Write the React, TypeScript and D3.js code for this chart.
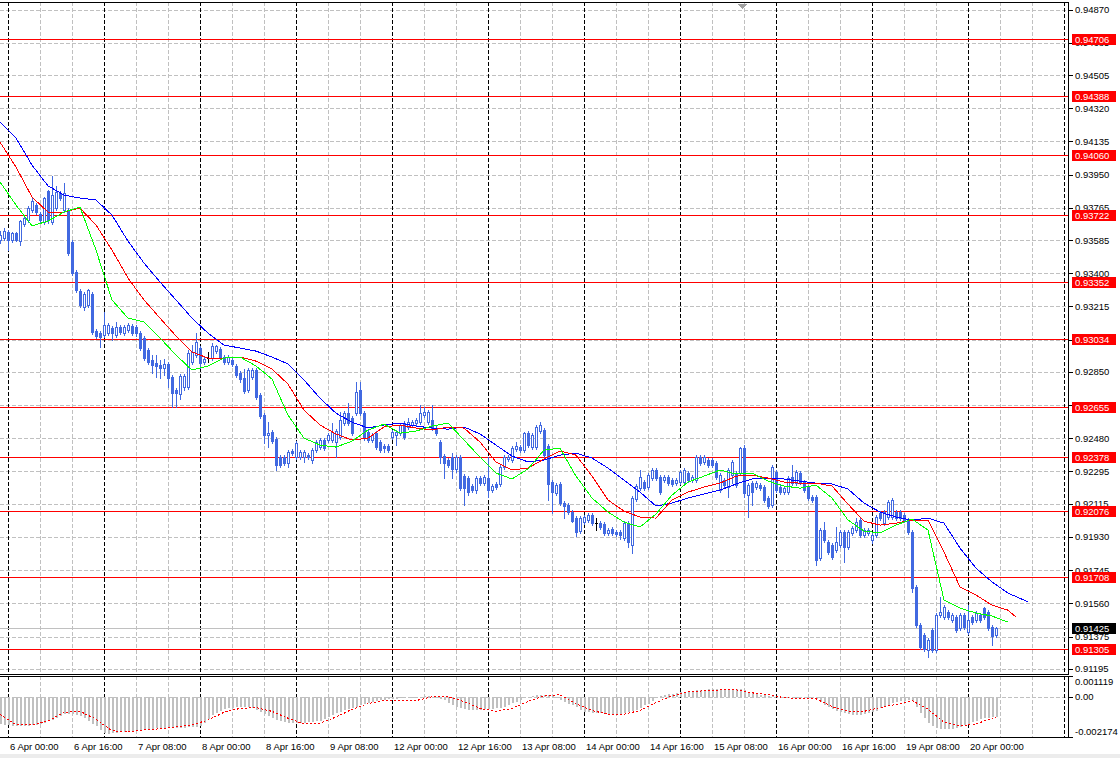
import { useEffect } from "react";
import * as d3 from "d3";

const WIDTH = 1120;
const HEIGHT = 758;
const MAIN = { left: 0, right: 1068, top: 2, bottom: 674 };
const SUB = { top: 676, bottom: 737 };
const FONT = "Tahoma, 'Liberation Sans', Arial, sans-serif";
const CANDLE = "#4169e1";

// H1 bars. Index 0 is 6 Apr 00:00, the two bars before it are 5 Apr 22:00 and 23:00
const FIRST_BAR = -2;
const LAST_SLOT = 265;
const PRICE_RANGE = [0.91166, 0.94912];
const MACD_RANGE = [-0.002174, 0.001119];

type Bar = [number, number, number, number]; // open, high, low, close

const APR05: Bar[] = [
  [0.93585, 0.93635, 0.93568, 0.93613],
  [0.93596, 0.93652, 0.93585, 0.93635],
];
const APR06: Bar[] = [
  [0.9363, 0.93641, 0.93529, 0.93585], [0.93585, 0.9363, 0.93574, 0.93624],
  [0.93624, 0.9363, 0.93579, 0.93585], [0.93579, 0.93697, 0.93557, 0.93691],
  [0.93675, 0.93719, 0.93664, 0.93707], [0.93697, 0.93775, 0.93686, 0.93763],
  [0.93752, 0.93819, 0.93741, 0.93802], [0.9378, 0.93791, 0.9373, 0.93741],
  [0.9373, 0.93741, 0.93686, 0.93697], [0.93686, 0.93825, 0.93675, 0.93819],
  [0.93858, 0.93864, 0.9368, 0.93697], [0.93686, 0.93942, 0.93675, 0.93836],
  [0.93763, 0.93887, 0.93752, 0.93853], [0.93847, 0.93858, 0.93808, 0.93819],
  [0.93752, 0.93903, 0.93741, 0.93847], [0.93752, 0.93763, 0.93501, 0.93512],
  [0.93574, 0.93585, 0.9339, 0.93401], [0.93407, 0.93418, 0.93295, 0.93306],
  [0.93301, 0.93312, 0.93212, 0.93223], [0.93212, 0.93295, 0.93195, 0.93284],
  [0.93223, 0.93312, 0.93212, 0.93306], [0.93284, 0.93295, 0.93061, 0.93072],
  [0.93077, 0.93088, 0.93038, 0.9305], [0.93066, 0.93077, 0.92989, 0.93044],
];
const APR07: Bar[] = [
  [0.93055, 0.93184, 0.93044, 0.93111], [0.93066, 0.93122, 0.93055, 0.93111],
  [0.93094, 0.93105, 0.93028, 0.93066], [0.93055, 0.93128, 0.93044, 0.931],
  [0.931, 0.93111, 0.93061, 0.93072], [0.93066, 0.93111, 0.93055, 0.931],
  [0.93083, 0.93122, 0.93072, 0.93111], [0.93105, 0.93116, 0.93055, 0.93066],
  [0.931, 0.93111, 0.9305, 0.93066], [0.93066, 0.93077, 0.92972, 0.92983],
  [0.93039, 0.9305, 0.92916, 0.92927], [0.92972, 0.92983, 0.92894, 0.92905],
  [0.92916, 0.92944, 0.92843, 0.92888], [0.92899, 0.92944, 0.92821, 0.92883],
  [0.92888, 0.92916, 0.92816, 0.92871], [0.92871, 0.92922, 0.92833, 0.92894],
  [0.92894, 0.92905, 0.92766, 0.92816], [0.92821, 0.92833, 0.92654, 0.92732],
  [0.92749, 0.9276, 0.92654, 0.92732], [0.92726, 0.92838, 0.92698, 0.92827],
  [0.92766, 0.92838, 0.92749, 0.92827], [0.92766, 0.92972, 0.92755, 0.92955],
  [0.92905, 0.93, 0.92894, 0.92961], [0.92944, 0.93066, 0.92933, 0.93016],
];
const APR08: Bar[] = [
  [0.92983, 0.92994, 0.92871, 0.92899], [0.92905, 0.92933, 0.92894, 0.92922],
  [0.92927, 0.92961, 0.92905, 0.92927], [0.92927, 0.93011, 0.92916, 0.92994],
  [0.92966, 0.93, 0.92955, 0.92994], [0.92977, 0.92989, 0.92922, 0.92933],
  [0.92933, 0.92944, 0.92894, 0.92905], [0.92905, 0.92944, 0.92894, 0.92933],
  [0.92916, 0.92927, 0.92883, 0.92894], [0.92883, 0.92894, 0.92821, 0.92833],
  [0.92843, 0.92855, 0.92794, 0.9281], [0.92816, 0.92866, 0.92732, 0.92743],
  [0.92749, 0.92871, 0.92738, 0.9286], [0.92821, 0.92871, 0.9281, 0.9286],
  [0.9286, 0.92871, 0.92698, 0.9271], [0.92721, 0.92732, 0.92592, 0.92604],
  [0.92609, 0.9262, 0.92453, 0.92498], [0.92498, 0.9257, 0.92431, 0.92509],
  [0.92515, 0.92526, 0.92453, 0.92464], [0.92476, 0.92487, 0.92303, 0.92331],
  [0.92375, 0.92386, 0.9232, 0.92331], [0.92375, 0.92386, 0.92331, 0.92342],
  [0.92342, 0.92414, 0.9232, 0.92403], [0.92409, 0.9242, 0.92386, 0.92397],
];
const APR09: Bar[] = [
  [0.92375, 0.92464, 0.92364, 0.92453], [0.92375, 0.92414, 0.92364, 0.92403],
  [0.92375, 0.92414, 0.92348, 0.92403], [0.92386, 0.92397, 0.92364, 0.92375],
  [0.92359, 0.92425, 0.92342, 0.92414], [0.92414, 0.9247, 0.92403, 0.92459],
  [0.92431, 0.92481, 0.9242, 0.9247], [0.9247, 0.92481, 0.92414, 0.92425],
  [0.9247, 0.92509, 0.92459, 0.92498], [0.9247, 0.92565, 0.92459, 0.92515],
  [0.92459, 0.92531, 0.92375, 0.9252], [0.92487, 0.92626, 0.92476, 0.92582],
  [0.92565, 0.92632, 0.92554, 0.9262], [0.9262, 0.92676, 0.92554, 0.92565],
  [0.92592, 0.92604, 0.92498, 0.92509], [0.9262, 0.92794, 0.92609, 0.92738],
  [0.92749, 0.92794, 0.92609, 0.9262], [0.9262, 0.92632, 0.9247, 0.92487],
  [0.92515, 0.92526, 0.92459, 0.9247], [0.9247, 0.92509, 0.92459, 0.92498],
  [0.92509, 0.9252, 0.9242, 0.92431], [0.92459, 0.9247, 0.92403, 0.92414],
  [0.92437, 0.92448, 0.92403, 0.92425], [0.92437, 0.92448, 0.92403, 0.92414],
];
const APR12: Bar[] = [
  [0.92487, 0.92526, 0.92476, 0.92515], [0.92498, 0.92526, 0.92442, 0.92515],
  [0.92509, 0.92565, 0.92498, 0.92554], [0.92565, 0.92576, 0.92476, 0.92487],
  [0.92543, 0.92592, 0.92531, 0.9257], [0.92554, 0.92582, 0.92543, 0.9257],
  [0.92565, 0.92592, 0.92554, 0.92582], [0.9257, 0.92665, 0.92559, 0.9262],
  [0.92609, 0.92654, 0.92598, 0.92626], [0.9257, 0.92637, 0.92559, 0.92626],
  [0.92582, 0.92665, 0.92526, 0.92537], [0.92537, 0.92548, 0.92498, 0.92509],
  [0.92459, 0.9247, 0.92342, 0.92375], [0.92381, 0.92392, 0.92258, 0.92342],
  [0.92359, 0.9237, 0.9232, 0.92331], [0.92375, 0.92397, 0.92258, 0.92309],
  [0.92309, 0.92386, 0.92292, 0.92375], [0.92375, 0.92386, 0.92191, 0.92202],
  [0.92269, 0.92281, 0.92108, 0.92202], [0.92258, 0.92269, 0.92163, 0.9218],
  [0.92214, 0.92225, 0.9218, 0.92191], [0.92191, 0.92269, 0.92175, 0.92258],
  [0.92258, 0.92269, 0.92219, 0.9223], [0.9223, 0.92275, 0.92219, 0.92264],
];
const APR13: Bar[] = [
  [0.92258, 0.92375, 0.92152, 0.92191], [0.92191, 0.92225, 0.9218, 0.92214],
  [0.92225, 0.92236, 0.92197, 0.92208], [0.92225, 0.92331, 0.92214, 0.9232],
  [0.9232, 0.92386, 0.92309, 0.92375], [0.92364, 0.92386, 0.92353, 0.92375],
  [0.92359, 0.92437, 0.92348, 0.92425], [0.9242, 0.92459, 0.92409, 0.92437],
  [0.92431, 0.92442, 0.92403, 0.92414], [0.92414, 0.92515, 0.92403, 0.92509],
  [0.92509, 0.9252, 0.92431, 0.92442], [0.92431, 0.92509, 0.9242, 0.92498],
  [0.92431, 0.92554, 0.9242, 0.92543], [0.9252, 0.9257, 0.92509, 0.92554],
  [0.92526, 0.92537, 0.92375, 0.92386], [0.92437, 0.92448, 0.92136, 0.92225],
  [0.92236, 0.92247, 0.92063, 0.9218], [0.92175, 0.9223, 0.92163, 0.92219],
  [0.92225, 0.92236, 0.92108, 0.92119], [0.92119, 0.9213, 0.92035, 0.92102],
  [0.92108, 0.92119, 0.92058, 0.92069], [0.92069, 0.9208, 0.92013, 0.92018],
  [0.92035, 0.92046, 0.91935, 0.91957], [0.91963, 0.92046, 0.91952, 0.92035],
];
const APR14: Bar[] = [
  [0.92013, 0.92052, 0.92002, 0.92041], [0.92024, 0.92063, 0.92013, 0.92052],
  [0.92052, 0.92063, 0.91996, 0.92007], [0.92007, 0.92035, 0.91968, 0.92007],
  [0.92007, 0.92018, 0.91974, 0.91985], [0.92002, 0.92013, 0.9194, 0.91952],
  [0.91952, 0.91979, 0.9194, 0.91968], [0.91974, 0.91985, 0.9194, 0.91952],
  [0.91957, 0.91968, 0.91935, 0.91946], [0.91957, 0.91968, 0.91918, 0.9194],
  [0.91924, 0.92018, 0.91913, 0.92007], [0.92007, 0.92018, 0.91874, 0.91901],
  [0.91885, 0.92158, 0.9184, 0.92147], [0.92141, 0.92225, 0.9213, 0.92214],
  [0.92202, 0.92303, 0.92191, 0.92264], [0.92236, 0.92247, 0.92191, 0.92202],
  [0.92208, 0.92286, 0.92197, 0.92275], [0.92258, 0.92314, 0.92247, 0.92303],
  [0.92303, 0.92314, 0.92247, 0.92258], [0.92264, 0.92275, 0.92169, 0.9218],
  [0.92247, 0.92275, 0.92236, 0.92264], [0.92264, 0.92275, 0.92219, 0.9223],
  [0.92247, 0.92258, 0.92214, 0.92225], [0.9223, 0.92258, 0.92219, 0.92247],
];
const APR15: Bar[] = [
  [0.92236, 0.92303, 0.92225, 0.92292], [0.92236, 0.92314, 0.92225, 0.92303],
  [0.92286, 0.92298, 0.92236, 0.92247], [0.92247, 0.92275, 0.92236, 0.92264],
  [0.92247, 0.92386, 0.92236, 0.92375], [0.92375, 0.92386, 0.92331, 0.92342],
  [0.92348, 0.92386, 0.92336, 0.92375], [0.92359, 0.9237, 0.9232, 0.92331],
  [0.92359, 0.9237, 0.9232, 0.92331], [0.92342, 0.92353, 0.92253, 0.92264],
  [0.92191, 0.92286, 0.9218, 0.92275], [0.92247, 0.92258, 0.92208, 0.92219],
  [0.92208, 0.92314, 0.92152, 0.92303], [0.92275, 0.92359, 0.9223, 0.92348],
  [0.92286, 0.92298, 0.92208, 0.92219], [0.92286, 0.92431, 0.92275, 0.92425],
  [0.92425, 0.92442, 0.92152, 0.92175], [0.92163, 0.9223, 0.92041, 0.92219],
  [0.9223, 0.92241, 0.92108, 0.9218], [0.92208, 0.92241, 0.92197, 0.9223],
  [0.92219, 0.9223, 0.92191, 0.92202], [0.92208, 0.92219, 0.92125, 0.92136],
  [0.92147, 0.92158, 0.92091, 0.92102], [0.92108, 0.92331, 0.92097, 0.9232],
];
const APR16: Bar[] = [
  [0.92292, 0.92303, 0.9218, 0.92191], [0.92208, 0.92219, 0.92169, 0.9218],
  [0.9218, 0.92214, 0.92169, 0.92202], [0.9218, 0.92269, 0.92169, 0.92258],
  [0.92264, 0.92331, 0.92219, 0.9223], [0.9223, 0.92303, 0.92219, 0.92292],
  [0.92286, 0.92298, 0.92225, 0.92236], [0.92236, 0.92247, 0.9218, 0.92191],
  [0.92208, 0.92219, 0.92136, 0.92147], [0.92152, 0.92163, 0.92125, 0.92136],
  [0.92152, 0.92163, 0.91773, 0.91801], [0.91812, 0.91979, 0.91801, 0.91968],
  [0.91968, 0.92013, 0.91901, 0.91913], [0.91901, 0.91913, 0.91835, 0.91846],
  [0.91885, 0.91896, 0.91807, 0.91818], [0.91857, 0.91985, 0.91846, 0.91901],
  [0.91885, 0.91968, 0.91874, 0.91957], [0.91957, 0.91968, 0.9179, 0.91874],
  [0.91874, 0.91968, 0.91862, 0.91957], [0.91952, 0.91991, 0.9194, 0.91979],
  [0.91968, 0.92035, 0.91957, 0.92013], [0.92024, 0.92035, 0.91929, 0.9194],
  [0.9194, 0.91979, 0.91929, 0.91968], [0.91952, 0.91979, 0.9194, 0.91968],
];
const APR19: Bar[] = [
  [0.91913, 0.91952, 0.91896, 0.9194], [0.9194, 0.92052, 0.91929, 0.92041],
  [0.92063, 0.92074, 0.92024, 0.92035], [0.92007, 0.9208, 0.91996, 0.92069],
  [0.92041, 0.92136, 0.9203, 0.92125], [0.92041, 0.92147, 0.9203, 0.92136],
  [0.92069, 0.9208, 0.92024, 0.92035], [0.92069, 0.9208, 0.92024, 0.92035],
  [0.92052, 0.92063, 0.92013, 0.92024], [0.92024, 0.92035, 0.91946, 0.91957],
  [0.91957, 0.91968, 0.91623, 0.91645], [0.91651, 0.91662, 0.91428, 0.91439],
  [0.91439, 0.9145, 0.91305, 0.91316], [0.91383, 0.91394, 0.91294, 0.91305],
  [0.91299, 0.91366, 0.91261, 0.91355], [0.91411, 0.91422, 0.91288, 0.91299],
  [0.91299, 0.91505, 0.91288, 0.91494], [0.91494, 0.91595, 0.91483, 0.91511],
  [0.91483, 0.9155, 0.91472, 0.91539], [0.91511, 0.91522, 0.91472, 0.91483],
  [0.91467, 0.91505, 0.91455, 0.91494], [0.91483, 0.91494, 0.914, 0.91411],
  [0.91422, 0.91505, 0.91411, 0.91494], [0.91494, 0.91505, 0.91416, 0.91428],
];
const APR20: Bar[] = [
  [0.914, 0.9155, 0.91389, 0.91467], [0.91483, 0.91494, 0.91444, 0.91455],
  [0.91467, 0.91516, 0.91455, 0.91505], [0.91494, 0.91505, 0.91455, 0.91467],
  [0.91533, 0.91539, 0.91472, 0.91483], [0.91511, 0.91522, 0.91411, 0.91422],
  [0.91428, 0.91439, 0.91327, 0.91377], [0.91383, 0.91428, 0.91372, 0.91425],
];
const DAYS = [APR05, APR06, APR07, APR08, APR09, APR12, APR13, APR14, APR15, APR16, APR19, APR20];

// Alligator, sampled every 4 bars from the first visible bar; last point is the shifted end
const LINE_STEP = 4;
const JAW_END = 255;
const TEETH_END = 252;
const LIPS_END = 250;
const JAW = [
  0.94243, 0.94154, 0.94003, 0.93887, 0.93836, 0.93819, 0.93808, 0.93724, 0.93579, 0.93457,
  0.93351, 0.93251, 0.9315, 0.93066, 0.93, 0.92983, 0.92966, 0.92933, 0.92894, 0.92805,
  0.92704, 0.9262, 0.9257, 0.92537, 0.92554, 0.92565, 0.92548, 0.92537, 0.92531, 0.92543,
  0.92504, 0.92442, 0.92381, 0.92348, 0.92359, 0.92386, 0.92397, 0.9237, 0.92314, 0.92247,
  0.9218, 0.92102, 0.92119, 0.92147, 0.92169, 0.92191, 0.92225, 0.92253, 0.92258, 0.92253,
  0.92241, 0.9223, 0.92225, 0.92197, 0.92119, 0.92069, 0.92041, 0.92024, 0.92035, 0.92007,
  0.91868, 0.91756, 0.91679, 0.91617, 0.91578, 0.91567,
];
const TEETH = [
  0.94131, 0.93992, 0.93825, 0.93741, 0.93741, 0.93763, 0.93669, 0.93529, 0.93373, 0.93251,
  0.9315, 0.9305, 0.92961, 0.92927, 0.92927, 0.92933, 0.9291, 0.92866, 0.92782, 0.92637,
  0.92554, 0.92504, 0.9247, 0.92481, 0.92543, 0.92554, 0.92537, 0.92526, 0.92543, 0.92537,
  0.92459, 0.92348, 0.92303, 0.92314, 0.92364, 0.92409, 0.92386, 0.92269, 0.92136, 0.92074,
  0.92041, 0.92035, 0.92136, 0.9218, 0.92208, 0.9223, 0.92269, 0.92275, 0.92258, 0.92236,
  0.9223, 0.9223, 0.92214, 0.92113, 0.92018, 0.91996, 0.92007, 0.92024, 0.92024, 0.91846,
  0.91651, 0.91606, 0.9155, 0.91522, 0.91483,
];
const LIPS = [
  0.93909, 0.9378, 0.93664, 0.93691, 0.93741, 0.93769, 0.93529, 0.93251, 0.9315, 0.93128,
  0.93039, 0.92944, 0.9286, 0.92883, 0.92927, 0.92933, 0.92883, 0.9281, 0.92609, 0.92481,
  0.92442, 0.92431, 0.92464, 0.92526, 0.92559, 0.92509, 0.9252, 0.92548, 0.92565, 0.9247,
  0.92375, 0.92286, 0.92253, 0.92309, 0.92414, 0.92425, 0.92269, 0.92147, 0.92069, 0.92013,
  0.91985, 0.92058, 0.92163, 0.92236, 0.92269, 0.92303, 0.92281, 0.92286, 0.92241, 0.92214,
  0.92202, 0.92219, 0.92147, 0.92024, 0.91963, 0.91952, 0.91996, 0.9203, 0.91968, 0.91578,
  0.91533, 0.91506, 0.91489, 0.91455,
];

// MACD(12,26,9): main value for each bar, signal sampled like the Alligator
const MACD_MAIN = [
  -0.00147, -0.00152, -0.00152, -0.00158, -0.00158, -0.00158, -0.00158, -0.00158, -0.00152, -0.00152, -0.00147, -0.00142,
  -0.00131, -0.00126, -0.00116, -0.00105, -0.00095, -0.00095, -0.00095, -0.001, -0.00105, -0.00116, -0.00131, -0.00147,
  -0.00158, -0.00179, -0.00194, -0.002, -0.00194, -0.00194, -0.00189, -0.00189, -0.00184, -0.00184, -0.00184, -0.00179,
  -0.00179, -0.00173, -0.00173, -0.00168, -0.00168, -0.00168, -0.00168, -0.00168, -0.00168, -0.00168, -0.00168, -0.00163,
  -0.00163, -0.00163, -0.00158, -0.00142, -0.00121, -0.001, -0.00089, -0.00079, -0.00068, -0.00063, -0.00063, -0.00058,
  -0.00058, -0.00058, -0.00058, -0.00063, -0.00074, -0.00084, -0.00095, -0.00105, -0.00116, -0.00126, -0.00131, -0.00137,
  -0.00142, -0.00142, -0.00142, -0.00142, -0.00142, -0.00137, -0.00137, -0.00131, -0.00131, -0.00121, -0.0011, -0.001,
  -0.00089, -0.00084, -0.00074, -0.00068, -0.00063, -0.00058, -0.00047, -0.00037, -0.00032, -0.00026, -0.00021, -0.00016,
  -0.00016, -0.00011, -0.00011, -0.00011, -0.00005, -0.00005, -0.00005, -0.00005, 0, 0, 0.00005, 0.00005,
  0, -0.00005, -0.00011, -0.00016, -0.00032, -0.00047, -0.00058, -0.00063, -0.00068, -0.00074, -0.00074, -0.00074,
  -0.00074, -0.00068, -0.00068, -0.00068, -0.00063, -0.00063, -0.00053, -0.00042, -0.00032, -0.00026, -0.00016, -0.00005,
  0, 0.00005, 0.00011, 0.00011, 0.00011, 0.00011, 0.00011, 0, -0.00016, -0.00026, -0.00037, -0.00047,
  -0.00058, -0.00074, -0.00084, -0.00084, -0.00089, -0.00089, -0.00089, -0.00095, -0.001, -0.001, -0.00095, -0.00095,
  -0.00089, -0.00084, -0.00079, -0.00074, -0.00063, -0.00047, -0.00037, -0.00021, -0.00005, 0.00005, 0.00011, 0.00016,
  0.00016, 0.00021, 0.00026, 0.00026, 0.00032, 0.00032, 0.00037, 0.00037, 0.00037, 0.00042, 0.00042, 0.00042,
  0.00042, 0.00042, 0.00042, 0.00042, 0.00042, 0.00042, 0.00037, 0.00026, 0.00021, 0.00016, 0.00011, 0.00011,
  0.00005, 0.00005, 0.00005, 0, 0, 0, 0, 0, -0.00005, -0.00005, -0.00005, -0.00005,
  -0.00011, -0.00026, -0.00042, -0.00058, -0.00068, -0.00079, -0.00084, -0.00089, -0.00095, -0.001, -0.001, -0.001,
  -0.00095, -0.00089, -0.00084, -0.00079, -0.00063, -0.00053, -0.00042, -0.00032, -0.00026, -0.00021, -0.00021, -0.00016,
  -0.00021, -0.00053, -0.00089, -0.00116, -0.00142, -0.00158, -0.00168, -0.00173, -0.00173, -0.00173, -0.00173, -0.00168,
  -0.00163, -0.00152, -0.00147, -0.00137, -0.00131, -0.00121, -0.00116, -0.00116, -0.0011, -0.0011,
];
const SIGNAL_END = 247;
const MACD_SIGNAL = [
  -0.00095, -0.00152, -0.00152, -0.00131, -0.00084, -0.00079, -0.00121, -0.00184, -0.00189, -0.00179,
  -0.00173, -0.00163, -0.00152, -0.00126, -0.00084, -0.00063, -0.00058, -0.00079, -0.00116, -0.00147,
  -0.00142, -0.0011, -0.00068, -0.00037, -0.00021, -0.00021, -0.00021, 0, 0, -0.00026,
  -0.00063, -0.00079, -0.00063, -0.00026, 0.00005, 0.00011, -0.00037, -0.00074, -0.00095, -0.00095,
  -0.00074, -0.00032, 0.00005, 0.00026, 0.00032, 0.00037, 0.00037, 0.00021, 0.00011, -0.00005,
  -0.00011, -0.00011, -0.00053, -0.00079, -0.00079, -0.00058, -0.00042, -0.00021, -0.00068, -0.00137,
  -0.00158, -0.00147, -0.00116, -0.0011,
];

const TIME_LABELS = [
  "6 Apr 00:00", "6 Apr 16:00", "7 Apr 08:00", "8 Apr 00:00", "8 Apr 16:00", "9 Apr 08:00",
  "12 Apr 00:00", "12 Apr 16:00", "13 Apr 08:00", "14 Apr 00:00", "14 Apr 16:00", "15 Apr 08:00",
  "16 Apr 00:00", "16 Apr 16:00", "19 Apr 08:00", "20 Apr 00:00",
];
const BARS_PER_LABEL = 16;
const BARS_PER_GRID = 8;
const BARS_PER_DAY = 24;

const PRICE_TICKS = [
  0.9487, 0.94685, 0.94505, 0.9432, 0.94135, 0.9395, 0.93765, 0.93585, 0.934, 0.93215, 0.9303,
  0.9285, 0.92665, 0.9248, 0.92295, 0.92115, 0.9193, 0.91745, 0.9156, 0.91375, 0.91195,
];
const LEVELS = [
  0.94706, 0.94388, 0.9406, 0.93722, 0.93352, 0.93034, 0.92655, 0.92378, 0.92076, 0.91708, 0.91305,
];
const BID = 0.91425;
const MACD_TICKS = [0.001119, 0, -0.002174];
const MACD_TICK_TEXT = ["0.001119", "0.00", "-0.002174"];

const fmt = d3.format(".5f");

export default function App() {
  useEffect(() => {
    document.body.style.margin = "0";
  }, []);

  const candles = DAYS.flat();
  const x = d3.scaleLinear().domain([FIRST_BAR, LAST_SLOT]).range([MAIN.left, MAIN.right]);
  const y = d3.scaleLinear().domain(PRICE_RANGE).range([MAIN.bottom, MAIN.top]);
  const ym = d3.scaleLinear().domain(MACD_RANGE).range([SUB.bottom, SUB.top]);
  const px = (b: number) => Math.round(x(b));

  const sampled = (values: number[], end: number) =>
    values.map((v, k) => ({ bar: Math.min(FIRST_BAR + k * LINE_STEP, end), v }));

  const priceLine = d3
    .line<{ bar: number; v: number }>()
    .x((d) => x(d.bar))
    .y((d) => y(d.v));
  const macdLine = d3
    .line<{ bar: number; v: number }>()
    .x((d) => x(d.bar))
    .y((d) => ym(d.v));

  const gridBars = d3.range(0, LAST_SLOT, BARS_PER_GRID);
  const zeroY = Math.round(ym(0)) + 0.5;

  const verticals = (top: number, bottom: number) =>
    gridBars.map((b) => (
      <line
        key={`v-${top}-${b}`}
        x1={px(b) + 0.5}
        x2={px(b) + 0.5}
        y1={top}
        y2={bottom}
        stroke={b % BARS_PER_DAY === 0 ? "#000" : "#c0c0c0"}
        strokeDasharray="4,2"
      />
    ));

  const candleMarks = candles.map(([o, h, l, c], i) => {
    const bar = FIRST_BAR + i;
    const cx = px(bar);
    const yo = Math.round(y(o));
    const yc = Math.round(y(c));
    const top = Math.min(yo, yc);
    const bot = Math.max(yo, yc);
    const doji = o === c;
    const color = doji ? "#000" : CANDLE;
    return (
      <g key={i}>
        <line
          x1={cx + 0.5}
          x2={cx + 0.5}
          y1={Math.round(y(h))}
          y2={Math.round(y(l)) + 1}
          stroke={color}
        />
        {doji ? (
          <line x1={cx - 1} x2={cx + 2} y1={yo + 0.5} y2={yo + 0.5} stroke="#000" />
        ) : c < o ? (
          <rect x={cx - 1} y={top} width={3} height={bot - top + 1} fill={CANDLE} />
        ) : (
          <rect
            x={cx - 0.5}
            y={top + 0.5}
            width={2}
            height={Math.max(bot - top, 1)}
            fill="#fff"
            stroke={CANDLE}
          />
        )}
      </g>
    );
  });

  const label = (v: number) => y(v);

  return (
    <svg
      width={WIDTH}
      height={HEIGHT}
      style={{ position: "absolute", left: 0, top: 0, background: "#fff" }}
      fontFamily={FONT}
      fontSize={9.5}
      shapeRendering="crispEdges"
    >
      <defs>
        <clipPath id="main-clip">
          <rect x={0} y={MAIN.top} width={MAIN.right} height={MAIN.bottom - MAIN.top} />
        </clipPath>
        <clipPath id="sub-clip">
          <rect x={0} y={SUB.top} width={MAIN.right} height={SUB.bottom - SUB.top} />
        </clipPath>
      </defs>
      <rect x={0} y={0} width={WIDTH} height={HEIGHT} fill="#fff" />
      <rect x={0} y={HEIGHT - 4} width={WIDTH} height={4} fill="#ececec" />

      {/* main panel */}
      <g clipPath="url(#main-clip)">
        {PRICE_TICKS.map((t) => (
          <line
            key={t}
            x1={0}
            x2={MAIN.right}
            y1={Math.round(y(t)) + 0.5}
            y2={Math.round(y(t)) + 0.5}
            stroke="#c0c0c0"
            strokeDasharray="4,2"
          />
        ))}
        {verticals(MAIN.top, MAIN.bottom)}
        <line
          x1={0}
          x2={MAIN.right}
          y1={Math.round(y(BID)) + 0.5}
          y2={Math.round(y(BID)) + 0.5}
          stroke="#c0c0c0"
        />
        {LEVELS.map((v) => (
          <line
            key={v}
            x1={0}
            x2={MAIN.right}
            y1={Math.round(y(v)) + 0.5}
            y2={Math.round(y(v)) + 0.5}
            stroke="#ff0000"
          />
        ))}
        {candleMarks}
        <path d={priceLine(sampled(JAW, JAW_END)) ?? ""} fill="none" stroke="#0000ff" />
        <path d={priceLine(sampled(TEETH, TEETH_END)) ?? ""} fill="none" stroke="#ff0000" />
        <path d={priceLine(sampled(LIPS, LIPS_END)) ?? ""} fill="none" stroke="#00ff00" />
      </g>
      <polygon points="738,4 747,4 742.5,9" fill="#a0a0a0" />

      {/* MACD panel */}
      <g clipPath="url(#sub-clip)">
        <line x1={0} x2={MAIN.right} y1={zeroY} y2={zeroY} stroke="#c0c0c0" strokeDasharray="4,2" />
        {verticals(SUB.top, SUB.bottom)}
        {MACD_MAIN.map((v, i) => {
          const cx = px(FIRST_BAR + i);
          const yv = Math.round(ym(v));
          return (
            <rect
              key={i}
              x={cx}
              y={Math.min(yv, zeroY - 0.5)}
              width={2}
              height={Math.max(Math.abs(yv - (zeroY - 0.5)), 1)}
              fill="#c0c0c0"
            />
          );
        })}
        <path
          d={macdLine(
            MACD_SIGNAL.map((v, k) => ({ bar: Math.min(FIRST_BAR + k * LINE_STEP, SIGNAL_END), v }))
          ) ?? ""}
          fill="none"
          stroke="#ff0000"
          strokeDasharray="2,2"
        />
      </g>

      {/* frames */}
      <line x1={0} x2={MAIN.right + 0.5} y1={MAIN.top + 0.5} y2={MAIN.top + 0.5} stroke="#000" />
      <line x1={0} x2={MAIN.right + 0.5} y1={MAIN.bottom + 0.5} y2={MAIN.bottom + 0.5} stroke="#000" />
      <line x1={MAIN.right + 0.5} x2={MAIN.right + 0.5} y1={MAIN.top} y2={MAIN.bottom + 1} stroke="#000" />
      <line x1={0} x2={MAIN.right + 0.5} y1={SUB.top + 0.5} y2={SUB.top + 0.5} stroke="#000" />
      <line x1={0} x2={MAIN.right + 0.5} y1={SUB.bottom + 0.5} y2={SUB.bottom + 0.5} stroke="#000" />
      <line x1={MAIN.right + 0.5} x2={MAIN.right + 0.5} y1={SUB.top} y2={SUB.bottom + 1} stroke="#000" />

      {/* price axis */}
      {PRICE_TICKS.map((t) => {
        const ty = Math.min(label(t), MAIN.bottom - 6);
        return (
          <g key={t}>
            <line x1={MAIN.right + 1} x2={MAIN.right + 5} y1={Math.round(y(t)) + 0.5} y2={Math.round(y(t)) + 0.5} stroke="#000" />
            <text x={1075} y={ty} dominantBaseline="central" fill="#000">
              {fmt(t)}
            </text>
          </g>
        );
      })}
      {LEVELS.map((v) => (
        <g key={v}>
          <rect x={1072} y={Math.round(y(v)) - 5} width={44} height={11} fill="#ff0000" />
          <text x={1075} y={y(v) + 0.5} dominantBaseline="central" fill="#fff">
            {fmt(v)}
          </text>
        </g>
      ))}
      <rect x={1072} y={Math.round(y(BID)) - 5} width={44} height={11} fill="#000" />
      <text x={1075} y={y(BID) + 0.5} dominantBaseline="central" fill="#fff">
        {fmt(BID)}
      </text>

      {/* MACD axis */}
      {MACD_TICKS.map((t, i) => {
        const ty = Math.max(Math.min(ym(t), SUB.bottom - 6), SUB.top + 5);
        return (
          <g key={t}>
            <line x1={MAIN.right + 1} x2={MAIN.right + 5} y1={Math.round(ym(t)) + 0.5} y2={Math.round(ym(t)) + 0.5} stroke="#000" />
            <text x={1075} y={ty} dominantBaseline="central" fill="#000">
              {MACD_TICK_TEXT[i]}
            </text>
          </g>
        );
      })}

      {/* time axis */}
      {TIME_LABELS.map((t, i) => (
        <text key={t} x={px(i * BARS_PER_LABEL) + 2} y={746} dominantBaseline="central" fill="#000">
          {t}
        </text>
      ))}
    </svg>
  );
}
